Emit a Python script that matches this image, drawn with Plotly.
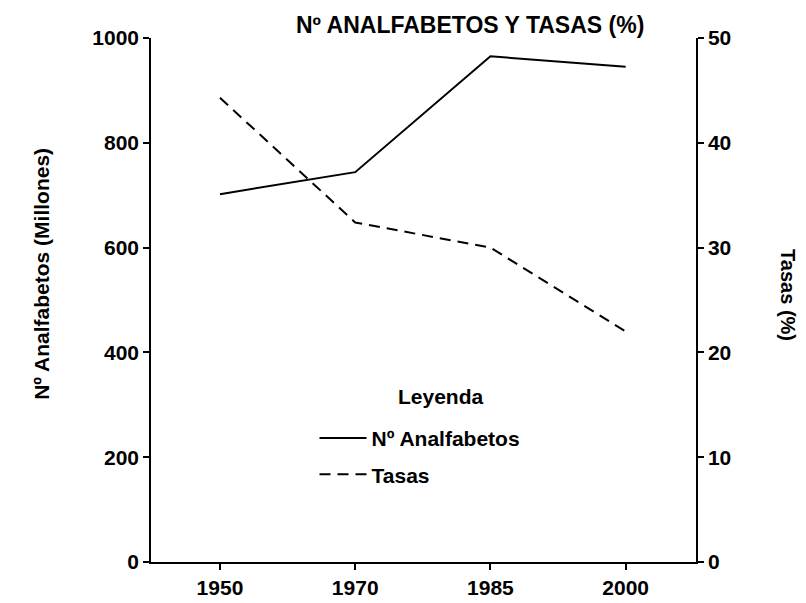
import plotly.graph_objects as go

# Data
years = ['1950', '1970', '1985', '2000']
analfabetos = [702, 744, 965, 945]   # millones
tasas = [44.3, 32.4, 30.0, 22.0]     # %

font_family = 'Liberation Sans, Arial, sans-serif'
tick_font = dict(family=font_family, size=21, color='black', weight='bold')

fig = go.Figure()

fig.add_trace(go.Scatter(
    x=years,
    y=analfabetos,
    name='Nº Analfabetos',
    mode='lines',
    line=dict(color='black', width=2),
    legendgroup='a',
))

fig.add_trace(go.Scatter(
    x=years,
    y=tasas,
    name='Tasas',
    mode='lines',
    line=dict(color='black', width=2, dash='11px,7px'),
    yaxis='y2',
    legendgroup='b',
))

axis_common = dict(
    showgrid=False,
    zeroline=False,
    showline=True,
    linecolor='black',
    linewidth=1.5,
    ticks='outside',
    ticklen=6,
    tickwidth=1.5,
    tickcolor='black',
    tickfont=tick_font,
)

fig.update_layout(
    width=806,
    height=603,
    margin=dict(l=143, r=118, t=30, b=39),
    plot_bgcolor='white',
    paper_bgcolor='white',
    xaxis=dict(type='category', range=[-0.51, 3.52], **axis_common),
    yaxis=dict(range=[0, 1000], dtick=200, **axis_common),
    yaxis2=dict(range=[0, 50], dtick=10, overlaying='y', side='right',
                anchor='x', **axis_common),
    showlegend=True,
    legend=dict(
        x=0.30, y=0.275, xanchor='left', yanchor='top',
        font=dict(family=font_family, size=21, color='black', weight='bold'),
        tracegroupgap=6,
        bgcolor='rgba(0,0,0,0)',
        itemwidth=47,
    ),
    annotations=[
        # title sits at the very top edge, as in the scanned original
        dict(text='Nº ANALFABETOS Y TASAS (%)', xref='paper', yref='paper',
             x=0.585, y=1.024, xanchor='center', yanchor='middle',
             showarrow=False,
             font=dict(family=font_family, size=23, color='black', weight='bold')),
        dict(text='Leyenda', xref='paper', yref='paper',
             x=0.532, y=0.316, xanchor='center', yanchor='middle',
             showarrow=False,
             font=dict(family=font_family, size=21, color='black', weight='bold')),
        dict(text='Nº Analfabetos (Millones)', xref='paper', yref='paper',
             x=-0.2, y=0.55, xanchor='center', yanchor='middle', textangle=-90,
             showarrow=False,
             font=dict(family=font_family, size=21, color='black', weight='bold')),
        dict(text='Tasas (%)', xref='paper', yref='paper',
             x=1.17, y=0.51, xanchor='center', yanchor='middle', textangle=90,
             showarrow=False,
             font=dict(family=font_family, size=20, color='black', weight='bold')),
    ],
)

fig.write_html('out.html')
